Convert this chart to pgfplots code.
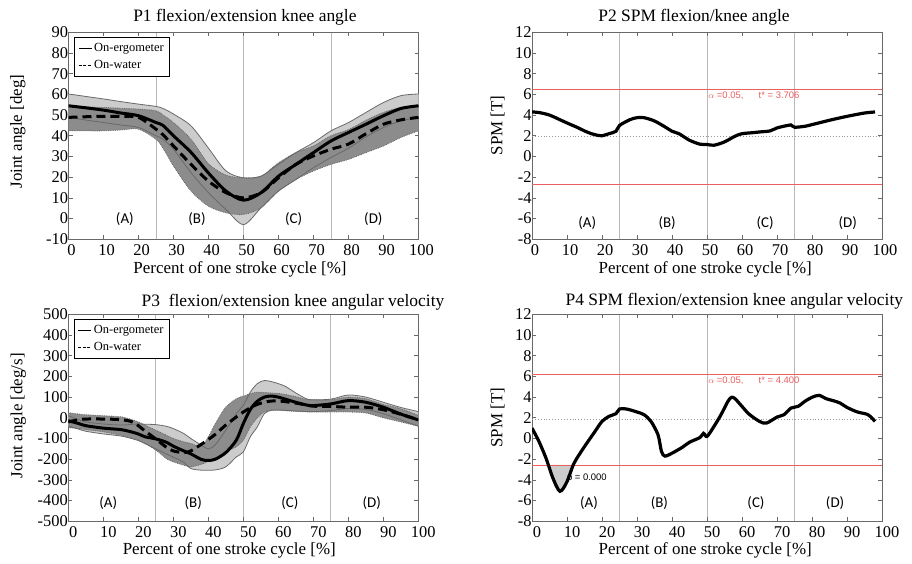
\documentclass[border=0pt]{standalone}
\usepackage{fontspec}
\setmainfont{Liberation Serif}
\newfontfamily\regfont{Carlito}
\newfontfamily\arial{Liberation Sans}
\usepackage{pgfplots}
\pgfplotsset{compat=1.18}
\usepackage{pgfplotstable}
\usepgfplotslibrary{fillbetween}

\definecolor{lightband}{RGB}{204,204,204}
\definecolor{darkband}{RGB}{140,140,140}
\definecolor{axisgray}{RGB}{105,105,105}
\definecolor{vline}{RGB}{185,185,185}
\definecolor{thrred}{RGB}{235,95,95}

% P1 knee angle: ergometer band (eu/el), water band (wu/wl), means (em/wm)
\pgfplotstableread{
x   eu    el    wu    wl    em    wm
0   60.2  48.9  54.5  42.4  54.5  48.9
5   59.0  47.6  54.0  42.4  53.5  49.2
10  57.8  46.4  53.7  42.4  52.4  49.4
15  56.5  45.2  53.3  42.8  51.0  49.4
20  55.3  44.0  52.9  43.2  49.7  48.9
25  54.2  40.0  52.1  38.3  46.4  43.2
27  53.2  38.3  50.0  34.0  45.0  40.5
30  50.5  33.5  46.4  25.4  40.0  35.1
35  44.8  22.2  38.3  13.3  32.0  26.2
40  34.0  12.5  26.5  6.0   22.0  18.1
45  23.0  4.4   21.0  2.8   13.3  12.5
50  19.7  -2.9  19.7  2.0   8.9   10.0
55  20.5  5.2   20.5  5.2   12.5  12.5
60  26.2  13.3  27.0  13.3  20.5  19.7
65  31.9  18.9  31.9  18.9  26.2  26.2
70  36.7  24.6  35.1  23.0  31.9  30.3
75  42.4  29.5  40.0  26.2  37.5  33.5
80  46.4  34.0  43.0  28.6  41.6  36.0
85  51.3  39.5  47.5  31.9  45.6  41.0
90  56.1  44.0  51.3  35.1  49.7  45.6
95  59.4  47.2  53.7  39.2  53.2  47.7
100 60.2  48.9  54.5  42.4  54.5  48.9
}\tabA

% P3 knee angular velocity
\pgfplotstableread{
x   eu    el    wu    wl    em    wm
0   10    -40   25    -48   -14   -20
3   -10   -55   18    -52   -28   -9
5   -20   -65   15    -57   -38   -6
10  -30   -78   10    -68   -50   -6
15  -35   -88   5     -84   -57   -9
18  -32   -100  -8    -97   -68   -18
20  -30   -110  -20   -108  -78   -38
22  -31   -125  -36   -125  -92   -65
25  -33   -150  -60   -156  -102  -102
28  -41   -175  -84   -197  -118  -142
30  -52   -190  -100  -213  -137  -160
33  -76   -215  -116  -229  -160  -168
35  -100  -245  -124  -237  -174  -160
38  -132  -253  -137  -225  -201  -128
40  -150  -253  -92   -210  -206  -105
42  -130  -252  -28   -195  -200  -80
45  -60   -237  52    -164  -168  -35
48  20    -189  92    -140  -108  4
50  60    -165  105   -108  -28   28
52  124   -92   116   -44   40    48
54  165   -44   124   0     80    65
56  180   20    122   28    100   75
58  175   36    120   36    105   81
60  165   38    118   36    100   81
62  152   36    113   34    90    78
65  120   33    102   31    75    71
68  92    30    89    29    62    62
70  87    30    87    28    59    56
75  90    35    87    28    67    55
80  110   45    100   28    83    51
85  100   40    92    23    75    51
90  75    20    65    0     51    39
95  50    -10   44    -20   18    17
100 30    -40   12    -41   -10   -10
}\tabC

% P2 SPM knee angle
\pgfplotstableread{
x  t
0  4.30
2  4.25
5  4.00
8  3.55
10 3.24
13 2.80
15 2.47
17 2.20
19 2.03
20 2.00
22 2.20
24 2.44
25 3.00
28 3.56
30 3.75
32 3.75
35 3.43
38 2.86
40 2.44
42 2.20
45 1.57
48 1.19
50 1.16
52 1.09
55 1.41
58 1.96
60 2.20
63 2.30
65 2.37
68 2.47
70 2.76
73 3.00
74 3.05
75 2.83
78 2.92
80 3.08
85 3.50
90 3.88
95 4.20
98 4.30
}\tabB

% P4 SPM knee angular velocity
\pgfplotstableread{
x  t
0  1.00
2  -0.30
4  -1.90
6  -3.85
8  -5.10
10 -4.17
12 -2.40
15 -0.78
18 0.68
20 1.65
22 2.14
24 2.40
25 2.85
27 2.85
30 2.56
32 2.30
34 1.65
36 0.36
37 -1.26
38 -1.70
40 -1.42
43 -0.84
45 -0.36
48 0.10
49 0.50
50 0.20
52 1.17
54 2.30
56 3.60
57 3.98
58 3.85
60 3.10
62 2.36
65 1.65
67 1.49
70 2.07
72 2.30
74 2.94
76 3.10
78 3.60
80 3.98
82 4.17
84 3.85
86 3.66
88 3.43
90 3.00
93 2.56
96 2.30
98 1.65
}\tabD

\tikzset{reg/.style={font=\regfont\fontsize{15}{15}\selectfont},
  sm/.style={smooth, tension=0.5}}

\pgfplotsset{
  panel/.style={
    set layers,
    scale only axis, width=350bp, height=207bp,
    xmin=0, xmax=100, xtick={0,10,...,100},
    axis line style={draw=axisgray, line width=0.9bp},
    tick style={draw=axisgray, line width=0.6bp},
    major tick length=4bp, tick align=inside,
    /pgf/number format/assume math mode=true,
    tick label style={font=\fontsize{16.5}{16.5}\selectfont},
    xticklabel style={yshift=-2bp},
    yticklabel style={xshift=3bp},
    label style={font=\fontsize{17}{17}\selectfont},
    title style={font=\fontsize{17.5}{17.5}\selectfont, anchor=center},
    xlabel={Percent of one stroke cycle [\%]},
    extra x ticks={25,50,75}, extra x tick labels={},
    extra x tick style={grid=major, major grid style={draw=vline, line width=1bp}, major tick length=0pt},
  },
  leg/.style={
    legend image code/.code={\draw[##1] (0bp,0bp) -- (13bp,0bp);},
    legend style={at={(0.015,0.977)}, anchor=north west,
      draw=black, line width=0.8bp, font=\fontsize{12.5}{13}\selectfont,
      inner xsep=4bp, inner ysep=4bp, row sep=3.5bp, cells={anchor=west}},
  },
}

\begin{document}
\begin{tikzpicture}
\path (0,0) rectangle (912bp,564bp);

% ---------- P1 ----------
\begin{axis}[panel, leg, at={(68.5bp,324.7bp)}, anchor=south west,
  ymin=-10, ymax=90, ytick={-10,0,...,90},
  title={P1 flexion/extension knee angle},
  title style={at={(0.504,1)}, yshift=9bp},
  xlabel style={at={(0.49,0)}, anchor=center, yshift=-30bp},
  ylabel={Joint angle [deg]},
  ylabel style={at={(-0.145,0.52)}, anchor=center},
  xticklabel style={xshift=3bp}]
\addlegendimage{black, line width=1bp}
\addlegendentry{On-ergometer}
\addlegendimage{black, line width=1bp, dash pattern=on 3bp off 1.5bp}
\addlegendentry{On-water}
\addplot[sm, name path=eu, draw=none, forget plot] table[x=x, y=eu] {\tabA};
\addplot[sm, name path=el, draw=none, forget plot] table[x=x, y=el] {\tabA};
\addplot[sm, name path=wu, draw=none, forget plot] table[x=x, y=wu] {\tabA};
\addplot[sm, name path=wl, draw=none, forget plot] table[x=x, y=wl] {\tabA};
\addplot[fill=lightband, draw=none, forget plot] fill between[of=eu and el];
\addplot[fill=darkband, draw=none, forget plot] fill between[of=wu and wl];
\addplot[sm, axisgray, line width=0.8bp, forget plot] table[x=x, y=eu] {\tabA};
\addplot[sm, axisgray, line width=0.8bp, forget plot] table[x=x, y=el] {\tabA};
\addplot[sm, black!60, densely dotted, line width=0.8bp, forget plot] table[x=x, y=wu] {\tabA};
\addplot[sm, black!60, densely dotted, line width=0.8bp, forget plot] table[x=x, y=wl] {\tabA};
\addplot[sm, black, line width=3bp, dash pattern=on 9bp off 5bp, forget plot] table[x=x, y=wm] {\tabA};
\addplot[sm, black, line width=3bp, forget plot] table[x=x, y=em] {\tabA};
\node[reg] at (axis cs:16.1,0) {(A)};
\node[reg] at (axis cs:36.7,0) {(B)};
\node[reg] at (axis cs:64.3,0) {(C)};
\node[reg] at (axis cs:87.1,0) {(D)};
\end{axis}

% ---------- P2 ----------
\begin{axis}[panel, at={(532bp,324.7bp)}, anchor=south west,
  ymin=-8, ymax=12, ytick={-8,-6,...,12},
  title={P2 SPM flexion/knee angle},
  title style={at={(0.463,1)}, yshift=9bp},
  xlabel style={at={(0.495,0)}, anchor=center, yshift=-30bp},
  ylabel={SPM [T]},
  ylabel style={at={(-0.098,0.55)}, anchor=center},
  xticklabel style={xshift=3bp}]
\addplot[thrred, line width=0.9bp] coordinates {(0,6.45) (100,6.45)};
\addplot[thrred, line width=0.9bp] coordinates {(0,-2.66) (100,-2.66)};
\addplot[black!40, dotted, line width=0.9bp] coordinates {(0,1.9) (100,1.9)};
\addplot[sm, black, line width=3.2bp] table[x=x, y=t] {\tabB};
\node[text=thrred, font=\arial\fontsize{9.5}{10}\selectfont, anchor=west] at (axis cs:49.4,5.84) {$\alpha$ =0.05,\hspace{1.6em}t* = 3.706};
\node[reg] at (axis cs:15.8,-6.4) {(A)};
\node[reg] at (axis cs:38.6,-6.4) {(B)};
\node[reg] at (axis cs:66.6,-6.4) {(C)};
\node[reg] at (axis cs:90.2,-6.4) {(D)};
\end{axis}

% ---------- P3 ----------
\begin{axis}[panel, leg, at={(68.3bp,42.7bp)}, anchor=south west,
  ymin=-500, ymax=500, ytick={-500,-400,...,500},
  title={P3\ \ flexion/extension knee angular velocity},
  title style={at={(0.642,1)}, yshift=5.7bp},
  xlabel style={at={(0.46,0)}, anchor=center, yshift=-29bp},
  ylabel={Joint angle [deg/s]},
  ylabel style={at={(-0.143,0.51)}, anchor=center},
  xticklabel style={xshift=5bp}]
\addlegendimage{black, line width=1bp}
\addlegendentry{On-ergometer}
\addlegendimage{black, line width=1bp, dash pattern=on 3bp off 1.5bp}
\addlegendentry{On-water}
\addplot[sm, name path=eu, draw=none, forget plot] table[x=x, y=eu] {\tabC};
\addplot[sm, name path=el, draw=none, forget plot] table[x=x, y=el] {\tabC};
\addplot[sm, name path=wu, draw=none, forget plot] table[x=x, y=wu] {\tabC};
\addplot[sm, name path=wl, draw=none, forget plot] table[x=x, y=wl] {\tabC};
\addplot[fill=lightband, draw=none, forget plot] fill between[of=eu and el];
\addplot[fill=darkband, draw=none, forget plot] fill between[of=wu and wl];
\addplot[sm, axisgray, line width=0.8bp, forget plot] table[x=x, y=eu] {\tabC};
\addplot[sm, axisgray, line width=0.8bp, forget plot] table[x=x, y=el] {\tabC};
\addplot[sm, black!60, densely dotted, line width=0.8bp, forget plot] table[x=x, y=wu] {\tabC};
\addplot[sm, black!60, densely dotted, line width=0.8bp, forget plot] table[x=x, y=wl] {\tabC};
\addplot[sm, black, line width=3bp, dash pattern=on 9bp off 5bp, forget plot] table[x=x, y=wm] {\tabC};
\addplot[sm, black, line width=3bp, forget plot] table[x=x, y=em] {\tabC};
\node[reg] at (axis cs:11.4,-410) {(A)};
\node[reg] at (axis cs:35.7,-410) {(B)};
\node[reg] at (axis cs:63.3,-410) {(C)};
\node[reg] at (axis cs:86.7,-410) {(D)};
\end{axis}

% ---------- P4 ----------
\begin{axis}[panel, at={(532bp,42.7bp)}, anchor=south west,
  ymin=-8, ymax=12, ytick={-8,-6,...,12},
  title={P4 SPM flexion/extension knee angular velocity},
  title style={at={(0.578,1)}, yshift=7.3bp},
  xlabel style={at={(0.495,0)}, anchor=center, yshift=-29bp},
  ylabel={SPM [T]},
  ylabel style={at={(-0.098,0.5)}, anchor=center},
  xticklabel style={xshift=5bp}]
\addplot[thrred, line width=0.9bp] coordinates {(0,6.18) (100,6.18)};
\addplot[name path=thr, thrred, line width=0.9bp] coordinates {(0,-2.56) (100,-2.56)};
\addplot[black!40, dotted, line width=0.9bp] coordinates {(0,1.8) (100,1.8)};
\addplot[sm, name path=c4, black, line width=3.2bp] table[x=x, y=t] {\tabD};
\addplot[fill=lightband, draw=none] fill between[of=c4 and thr, soft clip={domain=4.6:11.8}];
\node[text=thrred, font=\arial\fontsize{9.5}{10}\selectfont, anchor=west] at (axis cs:49.4,5.6) {$\alpha$ =0.05,\hspace{1.6em}t* = 4.400};
\node[font=\arial\fontsize{9.5}{10}\selectfont, anchor=west] at (axis cs:9,-3.85) {p = 0.000};
\node[reg] at (axis cs:16.3,-6.2) {(A)};
\node[reg] at (axis cs:36.4,-6.2) {(B)};
\node[reg] at (axis cs:64,-6.2) {(C)};
\node[reg] at (axis cs:86.6,-6.2) {(D)};
\end{axis}
\end{tikzpicture}
\end{document}
